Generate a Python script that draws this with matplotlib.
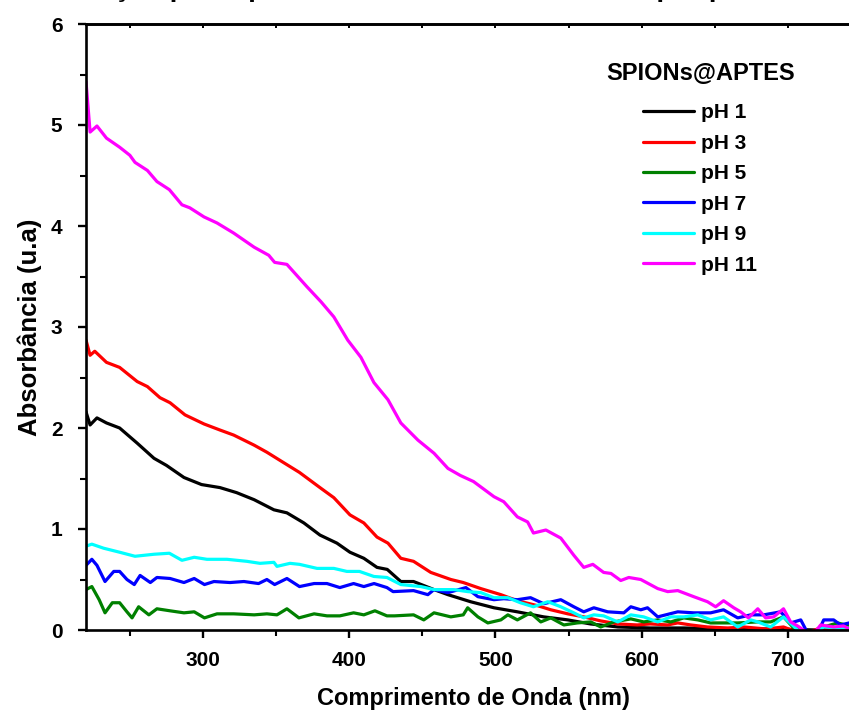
import matplotlib
matplotlib.use("Agg")
import matplotlib.pyplot as plt
from matplotlib.ticker import MultipleLocator

plt.rcParams['font.family'] = ['Liberation Sans', 'DejaVu Sans']
plt.rcParams['font.weight'] = 'bold'

labels = ["pH 1", "pH 3", "pH 5", "pH 7", "pH 9", "pH 11"]
colors = ["#000000", "#ff0000", "#008000", "#0000ff", "#00ffff", "#ff00ff"]
legend_title = "SPIONs@APTES"

wl_ph1 = [220, 222.8, 227.5, 234, 243, 255, 266.5, 275, 287, 299, 311.6, 323, 335, 348.5, 357.4, 369, 380,
          391.6, 400.5, 410, 419, 426, 435.3, 444, 458, 467.5, 483, 499, 515, 533, 549.5, 565, 583.7, 606,
          628.8, 660, 690, 720, 745]
ab_ph1 = [2.16, 2.03, 2.10, 2.05, 2.00, 1.85, 1.70, 1.63, 1.51, 1.44, 1.41, 1.36, 1.29, 1.19, 1.16, 1.06, 0.94,
          0.86, 0.77, 0.71, 0.62, 0.60, 0.48, 0.48, 0.40, 0.35, 0.28, 0.22, 0.18, 0.13, 0.10, 0.06, 0.03, 0.02,
          0.02, 0.01, 0.01, 0.00, 0.00]

wl_ph3 = [220, 222.8, 226, 234, 243, 255, 262, 270.6, 277.5, 287.7, 300.7, 311.6, 321, 335, 343.7, 352.6, 366,
          380, 389.5, 400.5, 410, 419, 426.5, 435.3, 444, 455.8, 469.5, 478, 490, 503.7, 515, 529, 537.9, 549.5,
          560.4, 572, 583.7, 597, 606, 617.8, 624.7, 633.6, 645, 658.9, 670, 685, 697, 706, 713, 722, 731, 745]
ab_ph3 = [2.87, 2.72, 2.76, 2.65, 2.60, 2.46, 2.41, 2.30, 2.25, 2.13, 2.04, 1.98, 1.93, 1.83, 1.76, 1.68, 1.56,
          1.41, 1.31, 1.14, 1.06, 0.92, 0.86, 0.71, 0.68, 0.57, 0.50, 0.47, 0.41, 0.35, 0.29, 0.24, 0.20, 0.16,
          0.13, 0.09, 0.06, 0.05, 0.06, 0.05, 0.07, 0.05, 0.03, 0.02, 0.03, 0.01, 0.03, -0.02, -0.03, 0.02, 0.01, -0.01]

wl_ph5 = [220, 224, 229, 233, 238, 243, 248, 251.5, 256, 263, 268.5, 277.5, 287, 294, 301, 309.6, 321, 335,
          343.7, 350.6, 357.4, 365.6, 376, 384.8, 393.6, 403, 410, 417.6, 425.8, 431, 444, 451, 458, 469.5, 478,
          481, 488, 494.8, 503.7, 508.5, 515, 524, 531, 537.9, 546.8, 556, 565.2, 572, 581, 592.6, 601.4, 611,
          620, 628.8, 638.4, 647.2, 656, 665.7, 679.4, 688.2, 697, 704, 710.8, 718, 724.5, 734, 745]
ab_ph5 = [0.40, 0.43, 0.30, 0.17, 0.27, 0.27, 0.18, 0.12, 0.23, 0.15, 0.21, 0.19, 0.17, 0.18, 0.12, 0.16, 0.16, 0.15,
          0.16, 0.15, 0.21, 0.12, 0.16, 0.14, 0.14, 0.17, 0.15, 0.19, 0.14, 0.14, 0.15, 0.10, 0.17, 0.13, 0.15,
          0.22, 0.13, 0.07, 0.10, 0.15, 0.10, 0.17, 0.08, 0.12, 0.05, 0.07, 0.08, 0.03, 0.08, 0.11, 0.08, 0.10,
          0.08, 0.12, 0.10, 0.07, 0.07, 0.07, 0.08, 0.08, 0.13, 0.02, 0.00, -0.02, 0.03, 0.07, 0.03]

wl_ph7 = [220, 224, 227.5, 233, 239, 243, 248, 253, 257, 264, 268.5, 277.5, 287, 294, 301, 307.5, 318.5, 328,
          338, 343.7, 349, 357.4, 366, 376, 384.8, 393.6, 403, 410, 417, 425.8, 430, 444, 453.8, 458, 467.5,
          479.8, 488, 499, 505.7, 515, 524, 533, 544.7, 553.6, 560.4, 567.3, 576.8, 587.8, 592.6, 599.4, 604,
          611, 624.7, 635.6, 647.2, 656, 665.7, 674.6, 683.5, 695, 701.9, 708.8, 713.5, 720.4, 724.5, 731.3,
          736, 745]
ab_ph7 = [0.64, 0.70, 0.64, 0.48, 0.58, 0.58, 0.50, 0.45, 0.54, 0.47, 0.52, 0.51, 0.47, 0.51, 0.45, 0.48, 0.47, 0.48,
          0.46, 0.50, 0.45, 0.51, 0.43, 0.46, 0.46, 0.42, 0.46, 0.43, 0.46, 0.42, 0.38, 0.39, 0.35, 0.40, 0.37,
          0.42, 0.33, 0.30, 0.31, 0.30, 0.32, 0.26, 0.30, 0.23, 0.18, 0.22, 0.18, 0.17, 0.23, 0.20, 0.22,
          0.13, 0.18, 0.17, 0.17, 0.20, 0.12, 0.15, 0.15, 0.18, 0.07, 0.10, -0.03, -0.03, 0.10, 0.10,
          0.05, 0.08]

wl_ph9 = [220, 224, 232, 243, 253.5, 266.5, 277, 285.6, 294, 302.7, 316.4, 330, 339, 348.5, 350.6, 359.5, 366,
          378, 389.5, 398.4, 407, 416.9, 425.8, 435.3, 449, 458, 471.6, 481, 490, 499, 508.5, 517, 526, 535.8,
          544.7, 553.6, 560.4, 567.3, 574, 583.7, 592.6, 601.4, 611, 620, 628.8, 638.4, 647.2, 656, 665.7,
          674.6, 679.4, 688.2, 697, 706.7, 713, 718, 724.5, 733, 745]
ab_ph9 = [0.83, 0.85, 0.81, 0.77, 0.73, 0.75, 0.76, 0.69, 0.72, 0.70, 0.70, 0.68, 0.66, 0.67, 0.63, 0.66, 0.65,
          0.61, 0.61, 0.58, 0.58, 0.53, 0.52, 0.45, 0.43, 0.40, 0.40, 0.38, 0.37, 0.32, 0.32, 0.27, 0.23, 0.28,
          0.23, 0.17, 0.12, 0.15, 0.14, 0.08, 0.15, 0.13, 0.08, 0.13, 0.13, 0.15, 0.10, 0.13, 0.03,
          0.10, 0.08, 0.03, 0.13, 0.00, -0.04, -0.04, 0.03, 0.02, 0.02]

wl_ph11 = [220, 222.8, 227.5, 234, 243, 250, 253.5, 262, 268.5, 277, 285.6, 291, 300.7, 309.6, 321, 335, 345,
           349, 357.4, 371, 380.7, 389.5, 399, 408, 416.9, 426.5, 435.3, 447, 458, 467.5, 476, 485, 499, 505.7,
           515, 522, 526, 534.5, 544.7, 553.6, 560.4, 566.6, 574, 579, 585.7, 591.2, 599.4, 611, 617.8, 624.7,
           635.6, 645, 650.6, 656, 663, 667.7, 673, 679.4, 684.8, 690.3, 697, 701.9, 706.7, 713.5, 718, 722.4,
           731.3, 738, 745]
ab_ph11 = [5.43, 4.93, 4.99, 4.87, 4.78, 4.70, 4.63, 4.55, 4.44, 4.36, 4.21, 4.18, 4.09, 4.03, 3.93, 3.79, 3.71,
           3.64, 3.62, 3.40, 3.25, 3.10, 2.87, 2.70, 2.45, 2.28, 2.05, 1.88, 1.75, 1.60, 1.53, 1.47, 1.32, 1.27,
           1.12, 1.07, 0.96, 0.99, 0.91, 0.74, 0.62, 0.65, 0.57, 0.56, 0.49, 0.52, 0.50, 0.41, 0.38, 0.39,
           0.33, 0.28, 0.23, 0.29, 0.22, 0.18, 0.12, 0.21, 0.12, 0.13, 0.21, 0.08, 0.04, -0.03, -0.03, 0.05,
           0.03, 0.04, -0.01]

series = [(wl_ph1, ab_ph1), (wl_ph3, ab_ph3), (wl_ph5, ab_ph5),
          (wl_ph7, ab_ph7), (wl_ph9, ab_ph9), (wl_ph11, ab_ph11)]

W, H = 849, 716
fig = plt.figure(figsize=(W / 100, H / 100), dpi=100)
ax = fig.add_axes([86 / W, (H - 630) / H, 775 / W, 606 / H])

for (x, y), lab, c in zip(series, labels, colors):
    ax.plot(x, y, color=c, lw=2.3, label=lab, solid_joinstyle='round', solid_capstyle='round')

ax.set_xlim(220, 750)
ax.set_ylim(0, 6)
ax.set_xticks([300, 400, 500, 600, 700])
ax.xaxis.set_minor_locator(MultipleLocator(50))
ax.yaxis.set_major_locator(MultipleLocator(1))
ax.yaxis.set_minor_locator(MultipleLocator(0.5))

for s in ax.spines.values():
    s.set_linewidth(1.9)
ax.tick_params(axis='both', which='major', direction='out', length=6, width=1.7,
               labelsize=15, pad=9)
ax.tick_params(axis='both', which='minor', direction='out', length=4, width=1.5)
ax.tick_params(axis='y', which='major', pad=11)
for lab in ax.get_xticklabels() + ax.get_yticklabels():
    lab.set_fontweight('bold')

top = ax.secondary_xaxis('top')
top.set_xticks([250, 300, 350, 400, 450, 500, 550, 600, 650, 700, 750])
top.tick_params(direction='in', length=3, width=1.4, labeltop=False)
top.spines['top'].set_linewidth(1.9)

ax.set_xlabel("Comprimento de Onda (nm)", fontsize=17, fontweight='bold', labelpad=12)
ax.set_ylabel("Absorbância (u.a)", fontsize=18.5, fontweight='bold', labelpad=6)

leg = ax.legend(loc='upper center', bbox_to_anchor=(700 / W, 1 - 93 / H), bbox_transform=fig.transFigure,
                frameon=False, fontsize=15, handlelength=2.45,
                handletextpad=0.34, labelspacing=0.55, borderpad=0)
for t in leg.get_texts():
    t.set_fontweight('bold')
for l in leg.get_lines():
    l.set_linewidth(2.3)
fig.text(701 / W, 1 - 73 / H, legend_title, fontsize=17, fontweight='bold', ha='center', va='center')

fig.text(34 / W, 1 + 4 / H, "Absorção pelas partículas de SPIONs@APTES por pH",
         fontsize=20, fontweight='bold', ha='left', va='baseline')

fig.savefig("out.png", dpi=100)
